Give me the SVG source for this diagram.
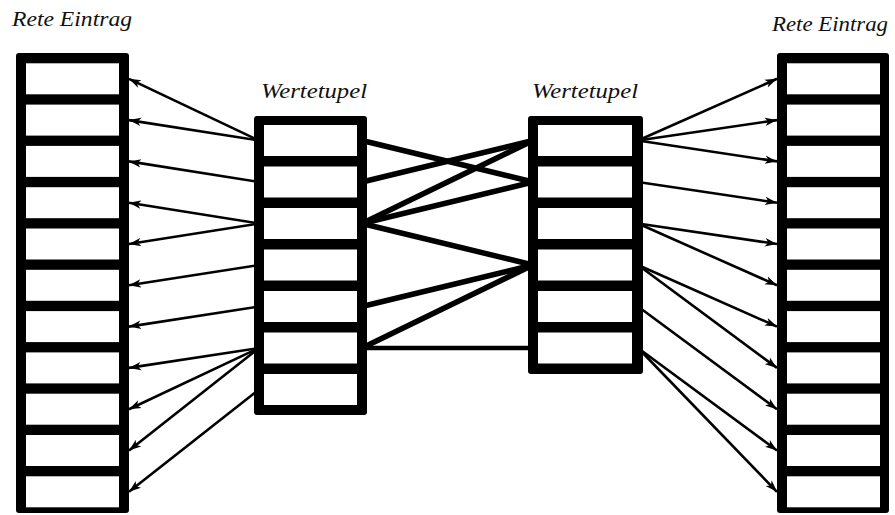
<svg xmlns="http://www.w3.org/2000/svg" width="895" height="515" viewBox="0 0 895 515">
<style>
.box{fill:#000}
.cell{fill:#fff}
.lbl{font-family:"Liberation Serif","DejaVu Serif",serif;font-style:italic;fill:#111}
.arr{stroke:#000;stroke-width:2.6;fill:none;marker-end:url(#ah)}
.thick{stroke:#000;stroke-width:5.5;fill:none}
</style>
<defs>
<marker id="ah" markerWidth="13" markerHeight="10" refX="12" refY="5" orient="auto" markerUnits="userSpaceOnUse">
<path d="M0,0.8 L12,5 L0,9.2 L3.2,5 z" fill="#000"/>
</marker>
</defs>
<rect width="895" height="515" fill="#fff"/>
<g id="connectors">
<line class="arr" x1="259" y1="140.5" x2="129" y2="78.8"/>
<line class="arr" x1="259" y1="140.5" x2="129" y2="120.1"/>
<line class="arr" x1="259" y1="182" x2="129" y2="161.4"/>
<line class="arr" x1="259" y1="223.5" x2="129" y2="202.7"/>
<line class="arr" x1="259" y1="223.5" x2="129" y2="244"/>
<line class="arr" x1="259" y1="265" x2="129" y2="285.3"/>
<line class="arr" x1="259" y1="306.5" x2="129" y2="326.6"/>
<line class="arr" x1="259" y1="348" x2="129" y2="367.9"/>
<line class="arr" x1="259" y1="348" x2="129" y2="409.2"/>
<line class="arr" x1="259" y1="348" x2="129" y2="450.5"/>
<line class="arr" x1="259" y1="389.5" x2="129" y2="491.8"/>
<line class="thick" x1="362" y1="140.5" x2="533" y2="182"/>
<line class="thick" x1="362" y1="182" x2="533" y2="140.5"/>
<line class="thick" x1="362" y1="223.5" x2="533" y2="140.5"/>
<line class="thick" x1="362" y1="223.5" x2="533" y2="182"/>
<line class="thick" x1="362" y1="223.5" x2="533" y2="265"/>
<line class="thick" x1="362" y1="306.5" x2="533" y2="265"/>
<line class="thick" x1="362" y1="348" x2="533" y2="265"/>
<line class="thick" x1="362" y1="348" x2="533" y2="348" style="stroke-width:4.5"/>
<line class="arr" x1="638" y1="140.5" x2="777" y2="78.8"/>
<line class="arr" x1="638" y1="140.5" x2="777" y2="120.1"/>
<line class="arr" x1="638" y1="140.5" x2="777" y2="161.4"/>
<line class="arr" x1="638" y1="182" x2="777" y2="202.7"/>
<line class="arr" x1="638" y1="223.5" x2="777" y2="244"/>
<line class="arr" x1="638" y1="223.5" x2="777" y2="285.3"/>
<line class="arr" x1="638" y1="265" x2="777" y2="326.6"/>
<line class="arr" x1="638" y1="265" x2="777" y2="367.9"/>
<line class="arr" x1="638" y1="306.5" x2="777" y2="409.2"/>
<line class="arr" x1="638" y1="348" x2="777" y2="450.5"/>
<line class="arr" x1="638" y1="348" x2="777" y2="491.8"/>
</g>
<g id="rete-left">
<rect class="box" x="16" y="53" width="113" height="460" rx="3"/>
<rect class="cell" x="26" y="63.3" width="93" height="31"/>
<rect class="cell" x="26" y="104.6" width="93" height="31"/>
<rect class="cell" x="26" y="145.9" width="93" height="31"/>
<rect class="cell" x="26" y="187.2" width="93" height="31"/>
<rect class="cell" x="26" y="228.5" width="93" height="31"/>
<rect class="cell" x="26" y="269.8" width="93" height="31"/>
<rect class="cell" x="26" y="311.1" width="93" height="31"/>
<rect class="cell" x="26" y="352.4" width="93" height="31"/>
<rect class="cell" x="26" y="393.7" width="93" height="31"/>
<rect class="cell" x="26" y="435" width="93" height="31"/>
<rect class="cell" x="26" y="476.3" width="93" height="31"/>
<text class="lbl" x="12" y="26" font-size="20" textLength="120" lengthAdjust="spacingAndGlyphs">Rete Eintrag</text>
</g>
<g id="werte-left">
<rect class="box" x="254" y="116" width="113" height="299" rx="3"/>
<rect class="cell" x="264" y="125" width="93" height="31"/>
<rect class="cell" x="264" y="166.5" width="93" height="31"/>
<rect class="cell" x="264" y="208" width="93" height="31"/>
<rect class="cell" x="264" y="249.5" width="93" height="31"/>
<rect class="cell" x="264" y="291" width="93" height="31"/>
<rect class="cell" x="264" y="332.5" width="93" height="31"/>
<rect class="cell" x="264" y="374" width="93" height="31"/>
<text class="lbl" x="261" y="98" font-size="21" textLength="106" lengthAdjust="spacingAndGlyphs">Wertetupel</text>
</g>
<g id="werte-right">
<rect class="box" x="528" y="116" width="115" height="258" rx="3"/>
<rect class="cell" x="538" y="125" width="94" height="31"/>
<rect class="cell" x="538" y="166.5" width="94" height="31"/>
<rect class="cell" x="538" y="208" width="94" height="31"/>
<rect class="cell" x="538" y="249.5" width="94" height="31"/>
<rect class="cell" x="538" y="291" width="94" height="31"/>
<rect class="cell" x="538" y="332.5" width="94" height="31"/>
<text class="lbl" x="532" y="98" font-size="21" textLength="106" lengthAdjust="spacingAndGlyphs">Wertetupel</text>
</g>
<g id="rete-right">
<rect class="box" x="777" y="53" width="112" height="460" rx="3"/>
<rect class="cell" x="787" y="63.3" width="93" height="31"/>
<rect class="cell" x="787" y="104.6" width="93" height="31"/>
<rect class="cell" x="787" y="145.9" width="93" height="31"/>
<rect class="cell" x="787" y="187.2" width="93" height="31"/>
<rect class="cell" x="787" y="228.5" width="93" height="31"/>
<rect class="cell" x="787" y="269.8" width="93" height="31"/>
<rect class="cell" x="787" y="311.1" width="93" height="31"/>
<rect class="cell" x="787" y="352.4" width="93" height="31"/>
<rect class="cell" x="787" y="393.7" width="93" height="31"/>
<rect class="cell" x="787" y="435" width="93" height="31"/>
<rect class="cell" x="787" y="476.3" width="93" height="31"/>
<text class="lbl" x="772" y="31" font-size="20" textLength="116" lengthAdjust="spacingAndGlyphs">Rete Eintrag</text>
</g>
</svg>
